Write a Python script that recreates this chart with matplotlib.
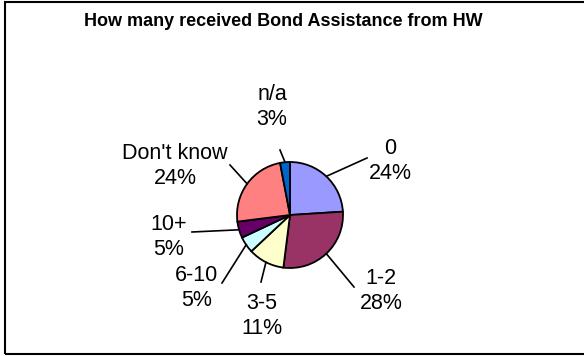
import numpy as np
import matplotlib
matplotlib.use("Agg")
import matplotlib.pyplot as plt
from matplotlib.patches import Rectangle

plt.rcParams['font.family'] = ['Liberation Sans', 'DejaVu Sans']

categories = ["0", "1-2", "3-5", "6-10", "10+", "Don't know", "n/a"]
percents = [24, 28, 11, 5, 5, 24, 3]
colors = ["#9999FF", "#993366", "#FFFFCC", "#CCFFFF", "#660066", "#FF8080", "#0066CC"]

# label text centre and leader end point, in pixels from the top-left corner
label_pos = [(390, 161), (381, 291), (262, 316), (197, 288), (169, 237), (175, 166), (272, 107)]
leader_end = [(367, 158), (354, 287), (261, 282), (222, 283), (192, 232), (230, 165), (280, 150)]

W, H = 584, 356
fig = plt.figure(figsize=(W / 100, H / 100), dpi=100)
ax = fig.add_axes([0, 0, 1, 1])

cx, cy, r = 290, H - 215, 53
wedges, _ = ax.pie(percents, colors=colors, startangle=90, counterclock=False,
                   center=(cx, cy), radius=r,
                   wedgeprops=dict(edgecolor="black", linewidth=1.3))

ax.set_xlim(0, W)
ax.set_ylim(0, H)
ax.set_aspect("equal")
ax.axis("off")

for w, name, p, (tx, ty), (ex, ey) in zip(wedges, categories, percents, label_pos, leader_end):
    mid = np.deg2rad((w.theta1 + w.theta2) / 2)
    sx, sy = cx + r * np.cos(mid), cy + r * np.sin(mid)
    ax.plot([sx, ex], [sy, H - ey], color="black", linewidth=1.2)
    ax.text(tx, H - ty, "%s\n%d%%" % (name, p), ha="center", va="center",
            fontsize=15.5, color="black")

ax.text(283, H - 22, "How many received Bond Assistance from HW", ha="center", va="center",
        fontsize=13, fontweight="bold")

# chart area frame (right edge is cut off in the original)
fig.patches.append(Rectangle((5 / W, 2 / H), 1.2, 352 / H, transform=fig.transFigure,
                             fill=False, edgecolor="black", linewidth=1.5))

fig.savefig("out.png", dpi=100)
